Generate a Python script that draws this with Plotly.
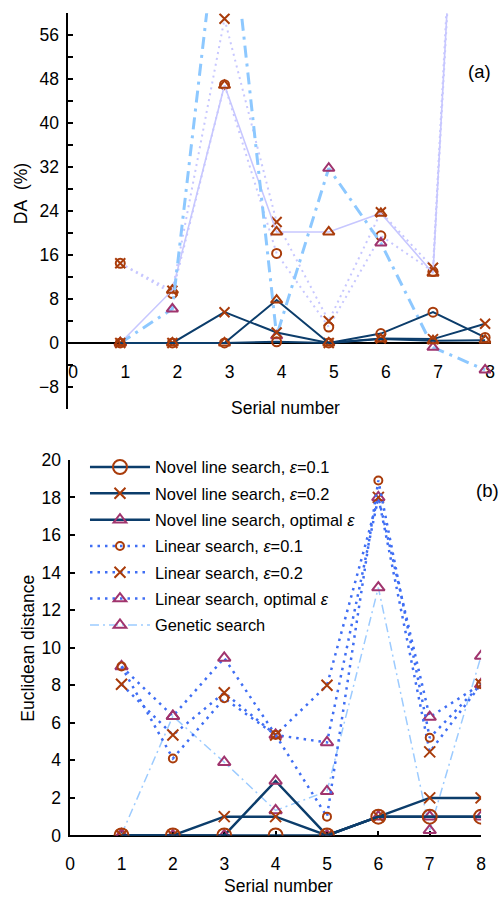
import plotly.graph_objects as go

# ---------------- data ----------------
serial = [1, 2, 3, 4, 5, 6, 7, 8]

# (a) DA (%)
a_novel_01 = [0, 0, 0, 0.2, 0, 1.7, 5.6, 1.0]
a_novel_02 = [0, 0, 5.6, 1.9, 0, 0.8, 0.7, 3.5]
a_novel_opt = [0, 0, 0, 7.8, 0, 0.7, 0.4, 0.5]
a_lin_01 = [14.5, 9.0, 47.0, 16.3, 2.9, 19.5, 13.0, 185]
a_lin_02 = [14.5, 9.5, 59.0, 22.0, 4.0, 23.8, 13.7, 195]
a_lin_opt = [0, 9.6, 46.9, 20.2, 20.2, 23.6, 12.7, 190]
a_genetic = [0, 6.2, 88, 1.3, 31.8, 18.2, -0.8, -4.9]

# (b) Euclidean distance
b_novel_01 = [0, 0, 0, 0, 0, 1, 1, 1]
b_novel_02 = [0, 0, 1, 1, 0, 1, 2, 2]
b_novel_opt = [0, 0, 0, 2.9, 0, 1, 1, 1]
b_lin_01 = [9.0, 4.1, 7.3, 5.35, 1.0, 18.9, 5.2, 8.05]
b_lin_02 = [8.05, 5.35, 7.6, 5.35, 8.0, 18.0, 4.45, 8.05]
b_lin_opt = [9.0, 6.35, 9.45, 5.35, 4.95, 18.0, 6.3, 8.05]
b_genetic = [0.05, 6.35, 3.9, 1.33, 2.35, 13.2, 0.27, 9.55]

legend_names = [
    "Novel line search, <i>ε</i>=0.1",
    "Novel line search, <i>ε</i>=0.2",
    "Novel line search, optimal <i>ε</i>",
    "Linear search, <i>ε</i>=0.1",
    "Linear search, <i>ε</i>=0.2",
    "Linear search, optimal <i>ε</i>",
    "Genetic search",
]

a_yticks = [-8, 0, 8, 16, 24, 32, 40, 48, 56]
b_yticks = [0, 2, 4, 6, 8, 10, 12, 14, 16, 18, 20]
xticks = [0, 1, 2, 3, 4, 5, 6, 7, 8]

# ---------------- styles ----------------
NAVY = "#0C3D6B"
ORANGE = "#A93C0B"
PURPLE = "#A0346E"
LIN_BLUE = "#3F6EF4"
GEN_BLUE = "#9CCBFF"
LAV = "#C7C7FF"
GEN_A = "#8DC8FF"
FONT = "Arial, Liberation Sans, sans-serif"

# figure size and mapping from reference pixels to figure pixels
W, H = 506, 908
SX, OX = 0.978, 5.0
SY, OY = 0.979, 8.7


def px(x):
    return ((x - OX) / SX) / W


def py(y):
    return 1 - ((y - OY) / SY) / H


def mk(symbol, color, size, width=2):
    return dict(symbol=symbol, color=color, size=size,
                line=dict(color=color, width=width))


fig = go.Figure()

# ---------- panel (a) ----------
a_series = [
    (a_lin_01, dict(color=LAV, width=2, dash="2px,4px"), mk("circle-open", ORANGE, 9)),
    (a_lin_02, dict(color=LAV, width=2, dash="2px,4px"), mk("x-thin-open", ORANGE, 10)),
    (a_lin_opt, dict(color=LAV, width=1.6), mk("triangle-up-open", ORANGE, 10)),
    (a_genetic, dict(color=GEN_A, width=3, dash="12px,6px,3px,6px"), mk("triangle-up-open", PURPLE, 10)),
    (a_novel_01, dict(color=NAVY, width=2), mk("circle-open", ORANGE, 9)),
    (a_novel_02, dict(color=NAVY, width=2), mk("x-thin-open", ORANGE, 10)),
    (a_novel_opt, dict(color=NAVY, width=2), mk("triangle-up-open", ORANGE, 10)),
]
for ys, line, marker in a_series:
    fig.add_trace(go.Scatter(x=serial, y=ys, mode="lines+markers", line=line,
                             marker=marker, showlegend=False,
                             xaxis="x", yaxis="y", cliponaxis=True))

# ---------- panel (b) ----------
b_series = [
    (b_novel_01, dict(color=NAVY, width=2.5), mk("circle-open", ORANGE, 14)),
    (b_novel_02, dict(color=NAVY, width=2.5), mk("x-thin-open", ORANGE, 11)),
    (b_novel_opt, dict(color=NAVY, width=2.5), mk("triangle-up-open", PURPLE, 11)),
    (b_lin_01, dict(color=LIN_BLUE, width=2.5, dash="2.5px,5px"), mk("circle-open", ORANGE, 8)),
    (b_lin_02, dict(color=LIN_BLUE, width=2.5, dash="2.5px,5px"), mk("x-thin-open", ORANGE, 11)),
    (b_lin_opt, dict(color=LIN_BLUE, width=2.5, dash="2.5px,5px"), mk("triangle-up-open", PURPLE, 11)),
    (b_genetic, dict(color=GEN_BLUE, width=1.5, dash="9px,4px,2px,4px"), mk("triangle-up-open", PURPLE, 11)),
]
# plot in reverse so novel lines lie on top; legend keeps original order
for i in range(len(b_series) - 1, -1, -1):
    ys, line, marker = b_series[i]
    fig.add_trace(go.Scatter(x=serial, y=ys, mode="lines+markers", line=line,
                             marker=marker, name=legend_names[i],
                             legendrank=i + 1, legendgroup=f"g{i}",
                             xaxis="x2", yaxis="y2"))

TICKFONT = dict(family=FONT, size=17.5, color="black")
axis_common = dict(showgrid=False, zeroline=False, showline=True, linecolor="black",
                   linewidth=1.5, ticks="inside", tickcolor="black", tickwidth=1.5,
                   ticklen=5, tickfont=TICKFONT, layer="below traces")

fig.update_layout(
    width=W, height=H,
    margin=dict(l=0, r=0, t=0, b=0),
    paper_bgcolor="white", plot_bgcolor="white",
    font=dict(family=FONT, color="black"),
    xaxis=dict(axis_common, domain=[px(68), px(490)], range=[0, 8.115],
               anchor="free", position=py(342), tickmode="array", tickvals=xticks,
               ticks="", ticklabelstandoff=13, ticklabelshift=5),
    yaxis=dict(axis_common, domain=[py(408), py(12)], range=[-12, 60],
               tickmode="array", tickvals=a_yticks, anchor="x",
               minor=dict(tickmode="linear", tick0=0, dtick=4, ticks="inside",
                          ticklen=5, tickcolor="black", tickwidth=1.5),
               ticklabelstandoff=4,
               zeroline=True, zerolinecolor="black", zerolinewidth=1.5),
    xaxis2=dict(axis_common, domain=[px(70), px(480)], range=[0, 8],
                anchor="y2", tickmode="array", tickvals=xticks,
                ticklabelstandoff=12),
    yaxis2=dict(axis_common, domain=[py(835), py(459)], range=[0, 20],
                anchor="x2", tickmode="array", tickvals=b_yticks,
                ticklabelstandoff=4),
    legend=dict(x=px(84.8), y=py(449), xanchor="left", yanchor="top",
                bgcolor="rgba(0,0,0,0)", font=dict(family=FONT, size=16.4, color="black"),
                itemwidth=60, tracegroupgap=2, traceorder="grouped"),
)

annots = [
    ("(a)", 478, 70, 0, 18.5),
    ("(b)", 486, 490, 0, 18.5),
    ("Serial number", 285, 407, 0, 17.5),
    ("Serial number", 278, 886, 0, 17.5),
    ("DA&nbsp;&nbsp;(%)", 21, 193, -90, 17.5),
    ("Euclidean distance", 28, 648, -90, 17.5),
]
for text, x, y, ang, size in annots:
    fig.add_annotation(text=text, x=px(x), y=py(y), xref="paper", yref="paper",
                       xanchor="center", yanchor="middle", showarrow=False,
                       textangle=ang, font=dict(family=FONT, size=size, color="black"))

fig.write_html("out.html")
